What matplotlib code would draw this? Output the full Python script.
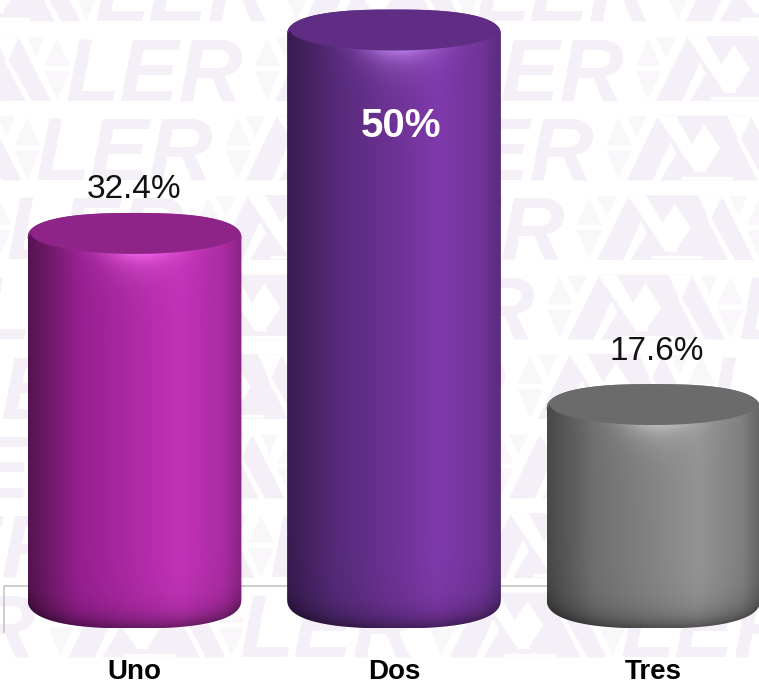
"""Three cylinder bars on a pale repeating watermark."""
import numpy as np
import matplotlib

matplotlib.use("Agg")
import matplotlib.pyplot as plt  # noqa: E402
from matplotlib.colors import to_rgb  # noqa: E402
from matplotlib.patches import PathPatch, Polygon  # noqa: E402
from matplotlib.path import Path  # noqa: E402

plt.rcParams["font.family"] = ["Liberation Sans", "DejaVu Sans"]

categories = ["Uno", "Dos", "Tres"]
values = [32.4, 50.0, 17.6]
value_labels = ["32.4%", "50%", "17.6%"]

# left edge, mid, peak, right edge, cap, highlight
shades = [
    ["#551450", "#941f8e", "#c232b8", "#8a2385", "#8e2488", "#f565ea"],
    ["#381b50", "#552a78", "#7f39aa", "#5a2c7e", "#5f2e84", "#b87ce8"],
    ["#484848", "#707070", "#939393", "#626262", "#6b6b6b", "#c0c0c0"],
]

W, H = 759, 684
BASE_PX = 608          # pixel row of value 0
PX_PER_UNIT = 11.56
STEP_PX = 259.5        # pixels between categories
FIRST_PX = 134.5
HALF_W = 0.412         # half bar width, in category units
RY = 20.5 / PX_PER_UNIT
WM = "#f5f0f7"
WM_LIGHT = "#faf7fb"


def draw_watermark(ax):
    tris = [
        [(-20, 30), (-8, 2), (5, 30)],
        [(-20, 35), (5, 35), (-8, 64)],
        [(0, 1), (20, 1), (10, 21)],
        [(150, 30), (163, 2), (176, 30)],
        [(150, 35), (176, 35), (163, 64)],
        [(133, 1), (150, 1), (142, 21)],
    ]
    body = [(0, 65), (32, 0), (124, 0), (157, 65)]
    cuts = [
        [(32, 1), (49, 1), (80, 56), (69, 56)],
        [(44, 28), (49, 38), (33, 65), (27, 65)],
        [(102, 1), (124, 1), (113, 25)],
        [(111, 24), (114, 24), (137, 65), (132, 65)],
        [(55, 61), (105, 61), (105, 63), (55, 63)],
        [(78, 10), (93, 33), (78, 55), (63, 33)],
    ]
    for row in range(9):
        top = 36 + 79.5 * (row - 1)
        start = 275 - 29.5 * (row - 1)
        for rep in range(-2, 4):
            x0 = start + 381 * rep
            if x0 > W + 20 or x0 < -460:
                continue
            ax.text(x0 + 171, top + 65, "LER", color=WM, fontsize=64, style="italic",
                    weight="bold", va="baseline", ha="left", clip_on=True, zorder=1)
            for tri in tris:
                pts = [(x0 + a, top + b) for a, b in tri]
                ax.add_patch(Polygon(pts, color=WM_LIGHT, lw=0, zorder=1))
            ax.add_patch(Polygon([(x0 + a, top + b) for a, b in body], color=WM, lw=0, zorder=2))
            for cut in cuts:
                pts = [(x0 + a, top + b) for a, b in cut]
                ax.add_patch(Polygon(pts, color="white", lw=1, joinstyle="round", zorder=3))


def draw_cylinder(ax, xc, value, colors):
    left, mid, peak, right, cap, glow = [np.array(to_rgb(c)) for c in colors]
    x = np.linspace(xc - HALF_W, xc + HALF_W, 240)
    y = np.linspace(value + RY, -RY, 700)
    xx, yy = np.meshgrid(x, y)
    u = (xx - xc) / HALF_W
    arc = RY * np.sqrt(np.clip(1 - u ** 2, 0, 1))

    stops = [-1, -0.55, 0.42, 0.82, 1]
    ramp = [left, mid, peak, peak * 0.6 + right * 0.4, right]
    img = np.dstack([np.interp(u, stops, [c[i] for c in ramp]) for i in range(3)])

    # dark rim along the bottom edge
    below = (yy + arc) * PX_PER_UNIT
    img *= (1 - 0.42 * np.exp(-np.clip(below, 0, None) / 13))[..., None]

    # soft highlight just under the cap
    under = (value - arc - yy) * PX_PER_UNIT
    amount = np.exp(-((u - 0.06) / 0.36) ** 2) * np.exp(-np.clip(under, 0, None) / 14) * 0.95
    img = img * (1 - amount[..., None]) + glow * amount[..., None]

    im = ax.imshow(np.clip(img, 0, 1), extent=(xc - HALF_W, xc + HALF_W, -RY, value + RY),
                   aspect="auto", interpolation="bilinear", zorder=3)

    # rounded shoulders: the sides start to curve a little before the end caps
    t = np.linspace(0, np.pi, 120)
    cos_t, sin_t = np.cos(t), np.sin(t)
    px = np.sign(cos_t) * np.abs(cos_t) ** 0.8
    py = np.abs(sin_t) ** 0.8
    top_lift, low_lift = 0.45, 0.8
    top_edge = np.column_stack([xc + HALF_W * px, value - top_lift + (RY + top_lift) * py])
    low_edge = np.column_stack([xc - HALF_W * px, low_lift - (RY + low_lift) * py])
    outline = np.vstack([top_edge, low_edge, top_edge[:1]])
    clip = PathPatch(Path(outline), transform=ax.transData, fc="none", ec="none")
    ax.add_patch(clip)
    im.set_clip_path(clip)

    # cap: follows the outline on top, true ellipse on its lower edge
    under_edge = np.column_stack([xc - HALF_W * 0.97 * cos_t, value - RY * sin_t])
    ax.add_patch(Polygon(np.vstack([top_edge, under_edge]), color=tuple(cap), lw=0, zorder=4))


fig = plt.figure(figsize=(W / 100, H / 100), dpi=100, facecolor="white")

bg = fig.add_axes([0, 0, 1, 1], zorder=0)
bg.set_xlim(0, W)
bg.set_ylim(H, 0)
bg.axis("off")
draw_watermark(bg)
bg.plot([4, 4, W], [632, 586, 586], color="#c6c6c6", lw=1.2, zorder=5)

ax = fig.add_axes([0, 0, 1, 1], zorder=1)
ax.patch.set_alpha(0)
positions = np.arange(len(categories))
for pos, val, colors in zip(positions, values, shades):
    draw_cylinder(ax, pos, val, colors)

ax.set_xlim(-FIRST_PX / STEP_PX, (W - FIRST_PX) / STEP_PX)
ax.set_ylim(-(H - BASE_PX) / PX_PER_UNIT, BASE_PX / PX_PER_UNIT)
for side in ax.spines.values():
    side.set_visible(False)
ax.set_yticks([])
ax.set_xticks(positions, categories, fontsize=20, fontweight="bold", color="black")
ax.tick_params(axis="x", length=0, pad=-18)

ax.text(0, values[0] + 3.1, value_labels[0], ha="center", va="baseline", fontsize=24, color="#111111", zorder=6)
ax.text(1.027, values[1] - 9.25, value_labels[1], ha="center", va="baseline", fontsize=29, fontweight="bold",
        color="white", zorder=6)
ax.text(2.012, values[2] + 3.85, value_labels[2], ha="center", va="baseline", fontsize=24, color="#111111", zorder=6)

fig.savefig("out.png", dpi=100)
